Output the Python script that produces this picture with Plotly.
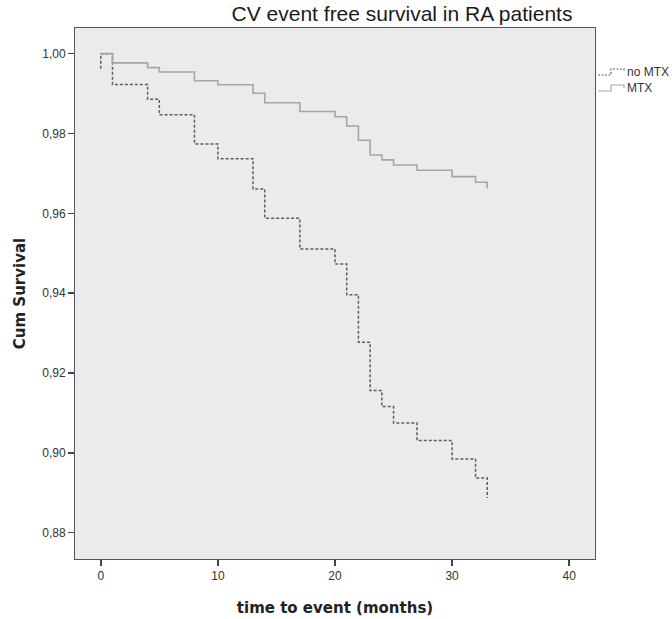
import plotly.graph_objects as go

# MTX group (solid line)
mtx_time = [0, 1, 4, 5, 8, 10, 13, 14, 17, 20, 21, 22, 23, 24, 25, 27, 30, 32, 33]
mtx_surv = [1.0, 0.9977, 0.9965, 0.9954, 0.9932, 0.9922, 0.9901, 0.9877, 0.9855,
            0.9842, 0.9819, 0.9783, 0.9746, 0.9734, 0.9721, 0.9708, 0.9692, 0.9678, 0.9662]

# no MTX group (dashed line)
nomtx_time = [0, 0, 1, 4, 5, 8, 10, 13, 14, 17, 20, 21, 22, 23, 24, 25, 27, 30, 32, 33]
nomtx_surv = [0.9962, 1.0, 0.9923, 0.9886, 0.9847, 0.9774, 0.9737, 0.9661, 0.9588, 0.9511,
              0.9473, 0.9396, 0.9277, 0.9156, 0.9116, 0.9075, 0.9031, 0.8985, 0.8937, 0.8887]

x_ticks = [0, 10, 20, 30, 40]
y_ticks = [0.88, 0.90, 0.92, 0.94, 0.96, 0.98, 1.00]

FONT = "Liberation Sans, Arial, sans-serif"
BOLD = "DejaVu Sans, Verdana, sans-serif"

W, H = 672, 619
L, T, R, B = 75, 28, 77, 60
PW, PH = W - L - R, H - T - B

def pxp(x):  # pixel x -> paper x
    return (x - L) / PW

def pyp(y):  # pixel y -> paper y
    return 1 - (y - T) / PH

fig = go.Figure()
fig.add_trace(go.Scatter(
    x=nomtx_time, y=nomtx_surv, mode="lines", name="no MTX",
    line=dict(color="#5e5e5e", width=1.5, dash="3px,2px", shape="hv"),
    showlegend=False))
fig.add_trace(go.Scatter(
    x=mtx_time, y=mtx_surv, mode="lines", name="MTX",
    line=dict(color="#a6a6a6", width=1.6, shape="hv"),
    showlegend=False))

# legend drawn manually (step icons + labels)
def step_icon(yc):
    return "M {x0},{a} L {x1},{a} L {x1},{b} L {x2},{b} L {x2},{c}".format(
        x0=pxp(598), x1=pxp(611), x2=pxp(624),
        a=pyp(yc + 3), b=pyp(yc - 3), c=pyp(yc))

fig.add_shape(type="path", xref="paper", yref="paper", path=step_icon(72),
              line=dict(color="#5e5e5e", width=1.2, dash="2px,1.5px"))
fig.add_shape(type="path", xref="paper", yref="paper", path=step_icon(88),
              line=dict(color="#a6a6a6", width=1.2))
fig.add_annotation(x=pxp(625), y=pyp(72), xref="paper", yref="paper",
                   text="no MTX", showarrow=False, xanchor="left", yanchor="middle",
                   font=dict(family=FONT, size=12, color="#333333"))
fig.add_annotation(x=pxp(625), y=pyp(88), xref="paper", yref="paper",
                   text="MTX", showarrow=False, xanchor="left", yanchor="middle",
                   font=dict(family=FONT, size=12, color="#333333"))

fig.update_layout(
    width=W, height=H,
    margin=dict(l=L, r=R, t=T, b=B, autoexpand=False),
    paper_bgcolor="white",
    plot_bgcolor="#EBEBED",
    separators=",.",
    hovermode=False,
    title=dict(text="CV event free survival in RA patients",
               x=402 / W, xref="container", xanchor="center",
               y=1 - 14 / H, yref="container", yanchor="middle",
               font=dict(family=FONT, size=21, color="#1a1a1a")),
    xaxis=dict(range=[-2.2, 42.2], tickvals=x_ticks, showgrid=False, zeroline=False,
               automargin=False,
               showline=True, linecolor="#555555", linewidth=1, mirror=True,
               ticks="outside", ticklen=6, tickcolor="#444444", tickwidth=1.5,
               tickfont=dict(family=FONT, size=12, color="#333333"),
               title=dict(text="<b>time to event (months)</b>", standoff=20,
                          font=dict(family=BOLD, size=15, color="#222222"))),
    yaxis=dict(range=[0.87342, 1.00643], tickvals=y_ticks, tickformat=".2f",
               showgrid=False, zeroline=False, automargin=False,
               showline=True, linecolor="#555555", linewidth=1, mirror=True,
               ticks="outside", ticklen=6, tickcolor="#444444", tickwidth=1.5,
               tickfont=dict(family=FONT, size=12, color="#333333"),
               title=dict(text="<b>Cum Survival</b>", standoff=12,
                          font=dict(family=BOLD, size=15, color="#222222"))),
)

# remove the browser's default 8px page margin so the figure fills the window exactly
fig.write_html("out.html",
               config={"displayModeBar": False, "staticPlot": True},
               post_script="document.body.style.margin='0';document.body.style.overflow='hidden';")
